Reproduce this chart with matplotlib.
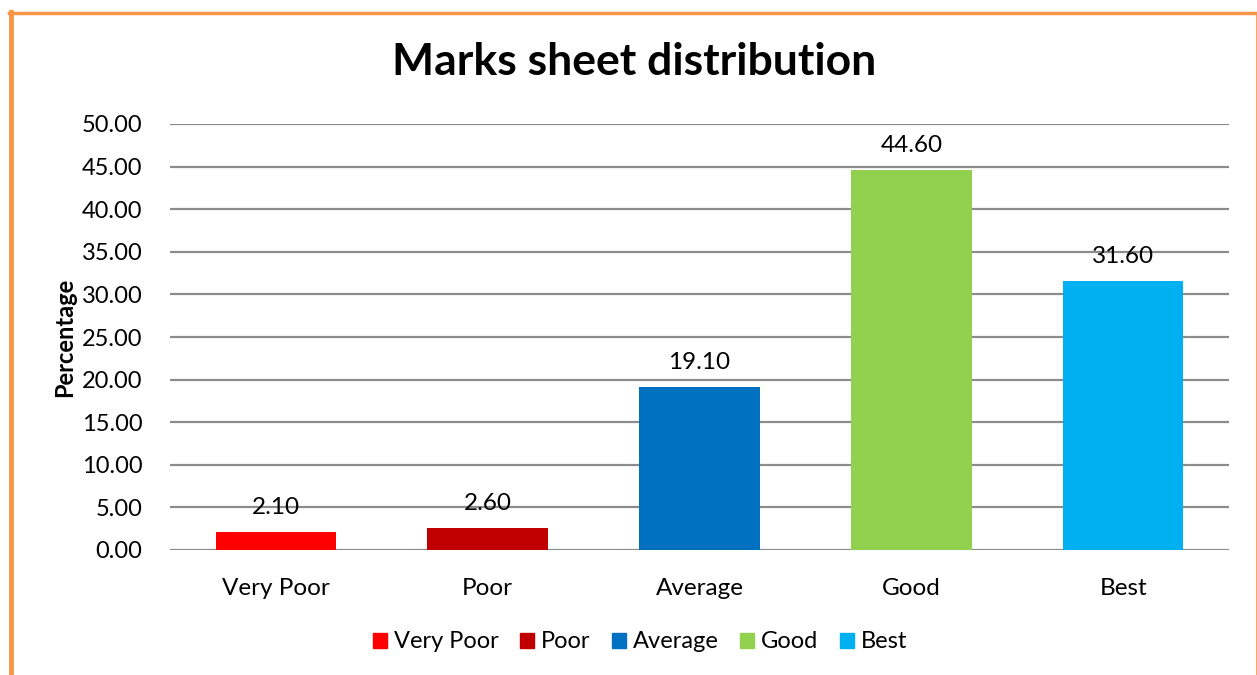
import matplotlib.pyplot as plt
from matplotlib.patches import Rectangle
from matplotlib.lines import Line2D

plt.rcParams['font.family'] = ['Lato', 'DejaVu Sans']

# 데이터
categories = ['Very Poor', 'Poor', 'Average', 'Good', 'Best']
percentages = [2.10, 2.60, 19.10, 44.60, 31.60]
colors = ['#FF0000', '#C00000', '#0070C0', '#92D050', '#00B0F0']
yticks = [0, 5, 10, 15, 20, 25, 30, 35, 40, 45, 50]

fig = plt.figure(figsize=(12.57, 6.75), dpi=100)
ax = fig.add_axes([170 / 1257, 1 - 550 / 675, 1059 / 1257, 426 / 675])

x = range(len(categories))
bars = ax.bar(x, percentages, width=0.57, color=colors, zorder=3)

# 막대 위 값 표시
for xi, v in zip(x, percentages):
    ax.annotate(f'{v:.2f}', (xi, v), xytext=(0, 10), textcoords='offset points',
                ha='center', va='bottom', fontsize=17.5, zorder=4)

ax.set_xlim(-0.5, len(categories) - 0.5)
ax.set_ylim(0, 50)
ax.set_yticks(yticks)
ax.set_yticklabels([f'{t:.2f}' for t in yticks], fontsize=17)
ax.set_xticks(list(x))
ax.set_xticklabels(categories, fontsize=17.5)
ax.tick_params(length=0, pad=20)
ax.tick_params(axis='x', pad=20)
ax.grid(axis='y', color='#8C8C8C', linewidth=1.6, zorder=0)
ax.set_axisbelow(True)
for s in ax.spines.values():
    s.set_visible(False)

ax.set_ylabel('Percentage', fontsize=17, fontweight='bold', labelpad=4)
fig.text(634 / 1257, 1 - 62 / 675, 'Marks sheet distribution', ha='center', va='center',
         fontsize=32, fontweight='bold')

# 범례
handles = [Rectangle((0, 0), 1, 1, color=c) for c in colors]
fig.legend(handles, categories, loc='center', bbox_to_anchor=(640 / 1257, 1 - 642 / 675),
           ncol=5, frameon=False, fontsize=17, handlelength=0.6, handleheight=0.6,
           handletextpad=0.3, columnspacing=0.9)

# 주황색 테두리
fig.add_artist(Line2D([10.5 / 1257, 10.5 / 1257], [0, 1 - 12 / 675], color='#F79646', lw=3.5))
fig.add_artist(Line2D([9 / 1257, 1256.5 / 1257], [1 - 13 / 675, 1 - 13 / 675], color='#F79646', lw=2.5))
fig.add_artist(Line2D([1256.5 / 1257, 1256.5 / 1257], [0, 1 - 13 / 675], color='#F79646', lw=1.2))

fig.savefig('out.png', dpi=100, facecolor='white')
